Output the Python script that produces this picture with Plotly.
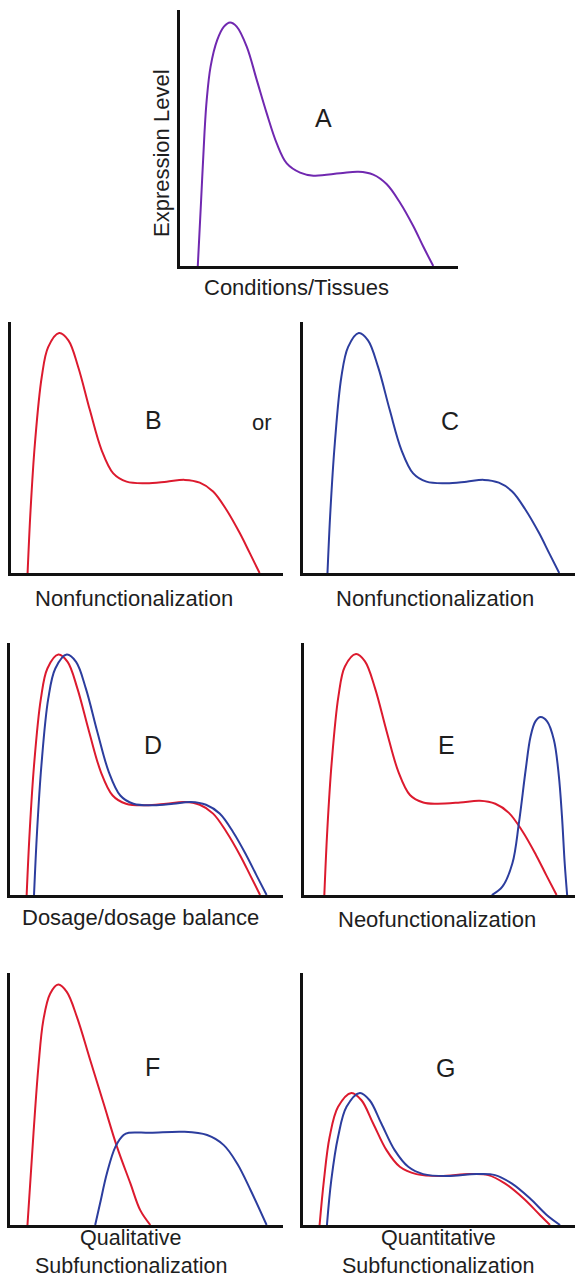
import plotly.graph_objects as go

# ---------------- data (x: conditions/tissues %, y: expression level %) ----------------
a_x = [6.4, 7.6, 8.8, 9.6, 11.0, 13.4, 15.8, 18.0, 20.4, 24.0, 27.6, 31.2, 34.8, 38.4, 43.2, 48.0, 57.6, 64.2, 69.5, 74.3, 79.1, 83.9, 87.5, 91.1]
a_y = [0, 25.8, 51.8, 64.8, 77.9, 88.3, 93.5, 95.1, 93.5, 85.7, 72.7, 59.6, 47.9, 40.1, 36.5, 35.3, 36.2, 36.8, 35.7, 32.0, 24.8, 15.6, 7.6, 0]

b_x = [6.1, 7.2, 8.8, 11.3, 13.7, 17.7, 21.1, 24.7, 29.0, 33.3, 37.6, 42.5, 49.8, 57.2, 63.9, 69.4, 74.3, 79.2, 84.1, 87.8, 91.4]
b_y = [0, 25.2, 51.7, 78.1, 90.1, 95.6, 92.7, 82.1, 64.9, 49.0, 39.7, 36.4, 35.8, 36.4, 37.1, 36.0, 32.5, 25.2, 15.9, 7.9, 0]

c_x = [9.0, 10.1, 11.7, 14.1, 16.6, 20.5, 23.9, 27.6, 31.9, 36.2, 40.5, 45.4, 52.8, 60.1, 66.5, 72.0, 76.9, 81.8, 86.8, 90.5, 94.2]
c_y = [0, 25.2, 51.7, 78.1, 90.1, 95.6, 92.7, 82.1, 64.9, 49.0, 39.7, 36.4, 35.8, 36.4, 37.1, 36.0, 32.5, 25.2, 15.9, 7.9, 0]

d_red_x = [6.1, 7.2, 8.8, 11.3, 13.7, 17.7, 21.1, 24.7, 29.0, 33.3, 37.6, 42.5, 49.8, 57.2, 63.9, 69.5, 74.4, 79.3, 84.3, 88.0, 91.6]
d_red_y = [0, 25.0, 51.4, 77.8, 89.9, 95.4, 92.5, 81.9, 64.7, 48.8, 39.5, 36.2, 35.6, 36.2, 36.9, 35.8, 32.3, 25.0, 15.7, 7.8, 0]
d_blue_x = [8.8, 9.9, 11.5, 14.0, 16.6, 20.8, 24.2, 27.8, 32.0, 36.2, 40.4, 45.2, 52.6, 59.8, 66.2, 71.8, 76.8, 81.7, 86.6, 90.3, 94.0]
d_blue_y = [0, 25.0, 51.4, 77.8, 89.9, 95.4, 92.5, 81.9, 64.7, 48.8, 39.5, 36.2, 35.6, 36.2, 36.9, 35.8, 32.3, 25.0, 15.7, 7.8, 0]

e_red_x = [7.5, 8.6, 10.2, 12.7, 15.1, 19.2, 22.5, 26.2, 30.5, 34.8, 39.1, 44.0, 49.0, 57.6, 64.9, 70.6, 75.6, 80.6, 85.6, 89.4, 93.2]
e_red_y = [0, 25.8, 52.3, 78.8, 90.7, 95.6, 92.7, 82.1, 64.9, 49.0, 39.7, 36.7, 36.2, 36.7, 37.4, 36.2, 32.6, 25.3, 15.9, 7.9, 0]
e_blue_x = [69.3, 73.2, 76.9, 79.3, 81.8, 83.6, 85.4, 87.3, 89.7, 92.2, 94.0, 95.2, 96.2, 97.1]
e_blue_y = [0, 3.3, 12.6, 28.5, 49.7, 62.9, 68.9, 70.6, 68.9, 61.6, 47.7, 31.1, 12.6, 0]

f_red_x = [6.4, 8.6, 10.4, 12.2, 14.7, 17.7, 20.8, 24.5, 29.4, 34.3, 39.2, 44.1, 47.7, 51.4]
f_red_y = [0, 36.3, 62.7, 81.2, 91.8, 95.4, 92.5, 82.6, 65.4, 48.2, 31.0, 16.5, 5.9, 0]
f_blue_x = [31.2, 33.0, 35.5, 38.6, 41.6, 43.5, 51.4, 63.6, 72.2, 78.3, 83.2, 88.1, 94.0]
f_blue_y = [0, 8.6, 20.5, 31.0, 35.7, 36.6, 36.6, 37.0, 35.7, 31.7, 24.4, 13.9, 0]

g_red_x = [6.1, 7.7, 9.8, 12.9, 17.8, 21.5, 25.8, 30.7, 35.6, 41.7, 50.3, 61.3, 68.1, 74.2, 81.0, 87.1, 90.8]
g_red_y = [0, 17.8, 35.0, 46.9, 52.4, 49.5, 40.3, 29.7, 23.1, 20.2, 19.4, 20.2, 19.8, 16.5, 10.6, 4.0, 0]
g_blue_x = [8.8, 10.4, 12.9, 16.0, 20.9, 24.5, 28.8, 33.7, 38.7, 44.2, 52.8, 63.8, 70.6, 76.7, 83.4, 89.6, 94.5]
g_blue_y = [0, 17.8, 35.0, 46.9, 52.4, 49.5, 40.3, 29.7, 23.1, 20.2, 19.4, 20.2, 19.8, 16.5, 10.6, 4.0, 0]

panel_letters = ["A", "B", "C", "D", "E", "F", "G"]
x_title = "Conditions/Tissues"
y_title = "Expression Level"
panel_labels = {
    "B": ["Nonfunctionalization"],
    "C": ["Nonfunctionalization"],
    "D": ["Dosage/dosage balance"],
    "E": ["Neofunctionalization"],
    "F": ["Qualitative", "Subfunctionalization"],
    "G": ["Quantitative", "Subfunctionalization"],
}

# ---------------- styling / layout ----------------
W, H = 575, 1278
PURPLE = "#7028B0"
RED = "#DC1A2E"
BLUE = "#2C3D9E"
TXT = "#1e1e1e"
FONT = "Liberation Sans, Arial, Helvetica, sans-serif"

# panel boxes in pixels: (left, right, top, bottom)
boxes = {
    "A": (180, 458, 10, 266),
    "B": (11, 283, 322, 573),
    "C": (303, 575, 322, 573),
    "D": (10, 283, 643, 895),
    "E": (304, 575, 643, 895),
    "F": (10, 283, 973, 1225),
    "G": (303, 575, 973, 1225),
}

curves = {
    "A": [(a_x, a_y, PURPLE)],
    "B": [(b_x, b_y, RED)],
    "C": [(c_x, c_y, BLUE)],
    "D": [(d_red_x, d_red_y, RED), (d_blue_x, d_blue_y, BLUE)],
    "E": [(e_red_x, e_red_y, RED), (e_blue_x, e_blue_y, BLUE)],
    "F": [(f_red_x, f_red_y, RED), (f_blue_x, f_blue_y, BLUE)],
    "G": [(g_red_x, g_red_y, RED), (g_blue_x, g_blue_y, BLUE)],
}

fig = go.Figure()
layout_axes = {}
for i, p in enumerate(panel_letters):
    n = i + 1
    xa = "x" if n == 1 else f"x{n}"
    ya = "y" if n == 1 else f"y{n}"
    l, r, t, b = boxes[p]
    common = dict(showgrid=False, zeroline=False, showticklabels=False, ticks="",
                  showline=True, linecolor="#111111", linewidth=3, fixedrange=True)
    layout_axes["xaxis" if n == 1 else f"xaxis{n}"] = dict(
        domain=[l / W, r / W], range=[0, 100], anchor=ya, **common)
    layout_axes["yaxis" if n == 1 else f"yaxis{n}"] = dict(
        domain=[(H - b) / H, (H - t) / H], range=[0, 100], anchor=xa, **common)
    for xs, ys, col in curves[p]:
        fig.add_trace(go.Scatter(x=xs, y=ys, mode="lines", xaxis=xa, yaxis=ya,
                                 line=dict(color=col, width=2, shape="spline",
                                           smoothing=1.0, simplify=False),
                                 hoverinfo="skip", showlegend=False))

fig.update_layout(width=W, height=H, margin=dict(l=0, r=0, t=0, b=0),
                  paper_bgcolor="white", plot_bgcolor="white", showlegend=False,
                  font=dict(family=FONT, color=TXT), **layout_axes)


def ann(text, px, py, size, angle=0, yanchor="middle"):
    fig.add_annotation(text=text, x=px / W, y=1 - py / H, xref="paper", yref="paper",
                       showarrow=False, xanchor="center", yanchor=yanchor,
                       textangle=angle, font=dict(family=FONT, size=size, color=TXT))


letter_pos = {"A": (323, 118), "B": (154, 420), "C": (450, 421), "D": (153, 745),
              "E": (446, 745), "F": (152, 1067), "G": (445, 1068)}
for p, (px, py) in letter_pos.items():
    ann(p, px, py, 25)
ann("or", 262, 422, 22)

ann(x_title, 296, 287, 22)
ann(y_title, 162, 153, 22, angle=-90)

label_pos = {"B": (134, 598), "C": (435, 598), "D": (140, 917), "E": (437, 920)}
for p, (px, py) in label_pos.items():
    ann(panel_labels[p][0], px, py, 22)

# two-line labels: first line sits just above the split, second just below it
two_line_pos = {"F": (131, 1252), "G": (438, 1252)}
for p, (px, split) in two_line_pos.items():
    ann(panel_labels[p][0], px, split, 21.5, yanchor="bottom")
    ann(panel_labels[p][1], px, split, 21.5, yanchor="top")

fig.write_html("out.html", config={"displayModeBar": False, "staticPlot": True},
               post_script="document.body.style.margin='0px';document.body.style.overflow='hidden';")
